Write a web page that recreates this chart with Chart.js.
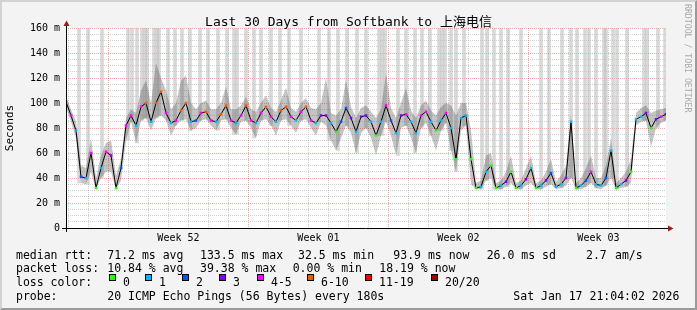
<!DOCTYPE html>
<html>
<head>
<meta charset="utf-8">
<script src="https://cdn.jsdelivr.net/npm/chart.js@4.4.1/dist/chart.umd.min.js"></script>
<style>
body { margin: 0; }
#wrap { position: relative; width: 697px; height: 310px; background: #f3f3f3; overflow: hidden;
        font-family: 'DejaVu Sans Mono', monospace; color: #000; }
#frame { position: absolute; left: 0; top: 0; width: 693px; height: 306px; border: 2px solid;
         border-color: #d2d2d2 #9a9a9a #9a9a9a #d2d2d2; }
canvas { position: absolute; left: 0; top: 0; }
.t { position: absolute; white-space: pre; font-size: 11.5px; line-height: 14px; }
#title { position: absolute; left: 0; top: 15px; width: 697px; text-align: center; font-size: 13px; line-height: 14px;
         font-family: 'DejaVu Sans Mono', 'Noto Sans CJK SC', monospace; }
#credit { position: absolute; left: 683px; top: 4px; writing-mode: vertical-rl; font-size: 8.2px; color: #aaa; }
.box { position: absolute; top: 274px; width: 7px; height: 7px; box-sizing: border-box; border: 1px solid #000; }
</style>
</head>
<body>
<div id="wrap">
  <div id="frame"></div>
  <canvas id="chart" width="697" height="310"></canvas>
  <div id="title">Last 30 Days from Softbank to 上海电信</div>
  <div id="credit">RRDTOOL / TOBI OETIKER</div>
  <div id="stats"></div>
</div>
<script>
// one median sample every 6 hours, starting Thu Dec 18 21:04
const sampleStep = 0.25;

const median = [
  101, 90, 78, 41, 40, 60, 32, 48, 61, 58,
  32, 48, 82, 90, 82, 97, 100, 85, 100, 109,
  92, 84, 86, 94, 100, 85, 86, 92, 93, 86,
  85, 91, 98, 86, 84, 90, 98, 86, 84, 92,
  97, 89, 85, 94, 97, 89, 86, 93, 97, 86,
  84, 90, 90, 84, 77, 85, 96, 88, 77, 89,
  90, 85, 74, 85, 98, 86, 76, 90, 91, 85,
  76, 90, 93, 85, 78, 86, 92, 80, 55, 88,
  90, 55, 32, 33, 45, 50, 32, 34, 37, 45,
  32, 34, 39, 48, 32, 34, 38, 44, 33, 35,
  40, 85, 32, 34, 38, 45, 35, 34, 40, 62,
  32, 35, 38, 45, 87, 89, 92, 80, 87, 89,
  91
];

const smokeHi = [
  105, 95, 85, 50, 48, 72, 40, 58, 68, 70,
  42, 55, 88, 95, 92, 110, 118, 100, 132, 120,
  110, 95, 100, 118, 122, 100, 95, 100, 102, 95,
  95, 100, 113, 95, 95, 98, 105, 95, 93, 100,
  106, 96, 93, 102, 112, 96, 93, 100, 104, 96,
  95, 100, 120, 92, 90, 95, 118, 97, 88, 96,
  98, 93, 88, 95, 124, 96, 88, 100, 112, 94,
  88, 98, 102, 94, 90, 97, 100, 98, 90, 100,
  100, 78, 36, 38, 58, 60, 36, 38, 45, 58,
  36, 38, 48, 58, 36, 38, 45, 55, 37, 42,
  50, 90, 36, 40, 48, 58, 40, 40, 50, 72,
  36, 40, 45, 55, 92, 96, 98, 92, 94, 95,
  96
];

const smokeLo = [
  97, 85, 72, 36, 35, 45, 31, 40, 45, 45,
  31, 38, 70, 85, 68, 86, 88, 78, 88, 90,
  86, 74, 82, 86, 87, 78, 80, 86, 87, 82,
  78, 86, 87, 80, 75, 85, 86, 80, 72, 86,
  87, 82, 74, 86, 87, 82, 76, 86, 87, 80,
  74, 85, 82, 70, 62, 72, 82, 76, 60, 76,
  80, 72, 58, 74, 85, 74, 58, 80, 82, 72,
  60, 80, 84, 74, 62, 78, 84, 62, 45, 78,
  82, 35, 31, 31, 38, 40, 31, 31, 33, 36,
  31, 31, 34, 36, 31, 31, 33, 35, 31, 32,
  34, 40, 31, 31, 33, 36, 32, 31, 34, 40,
  31, 32, 33, 36, 82, 85, 86, 65, 80, 84,
  86
];

// lost pings out of 20 for each sample
const lossCount = [
  4, 4, 1, 2, 1, 4, 0, 1, 4, 3,
  0, 2, 4, 4, 1, 4, 7, 1, 7, 7,
  4, 1, 4, 7, 7, 1, 2, 4, 7, 4,
  1, 7, 7, 4, 1, 4, 7, 4, 1, 4,
  7, 4, 1, 7, 7, 4, 1, 4, 7, 4,
  1, 3, 3, 1, 0, 2, 2, 3, 1, 3,
  3, 1, 0, 1, 4, 2, 1, 3, 4, 1,
  1, 4, 4, 1, 0, 1, 4, 1, 0, 1,
  1, 0, 0, 1, 1, 0, 0, 1, 3, 0,
  0, 1, 3, 1, 0, 1, 3, 2, 1, 1,
  3, 1, 0, 1, 2, 4, 1, 1, 2, 1,
  0, 1, 3, 0, 1, 1, 3, 0, 3, 4,
  3
];

// times (days from start) where the smoke runs off the top
const spikeTimes = [
  0.65, 1.10, 1.80, 3.10, 3.30, 3.55, 3.80, 3.95, 4.05, 4.40, 4.55, 4.65,
  5.10, 5.45, 5.80, 6.20, 6.70, 7.10, 7.60, 8.05, 8.40, 8.55, 9.00, 9.40,
  9.75, 10.25, 10.70, 11.15, 11.75, 12.65, 13.15, 13.60, 14.05, 14.55, 15.00, 15.65,
  15.80, 15.95, 16.60, 17.00, 17.45, 17.80, 18.20, 18.65, 18.80, 18.95, 19.25, 19.50,
  19.90, 20.80, 21.05, 21.40, 21.75, 22.10, 22.75, 23.75, 24.15, 24.80, 25.25, 25.55,
  25.95, 26.15, 26.50, 26.90, 27.00, 27.35, 27.55, 28.05, 28.90, 29.05, 29.60, 29.95
];

const weekLabels = ["Week 52", "Week 01", "Week 02", "Week 03"];

const lossLabels = ["0", "1", "2", "3", "4-5", "6-10", "11-19", "20/20"];
const lossColors = ["#26ff00", "#00b8ff", "#0059ff", "#7e00ff", "#ff00ff", "#ff5500", "#ff0000", "#a10000"];

const statLines = [
  ["median rtt:", "71.2 ms avg", "133.5 ms max", "32.5 ms min", "93.9 ms now", "26.0 ms sd", "2.7", "am/s"],
  ["packet loss:", "10.84 % avg", "39.38 % max", "0.00 % min", "18.19 % now"],
  ["probe:", "20 ICMP Echo Pings (56 Bytes) every 180s", "Sat Jan 17 21:04:02 2026"]
];

// layout of the text rows under the graph
const statX = [
  [16, 107.3, 200, 298, 393.3, 486.7, 586, 615],
  [16, 107.3, 200, 292.7, 379.3],
  [16, 107.3, 513.3]
];
const statY = [248, 261, 289];
const legendX = [109, 145, 182, 219, 257, 307, 365, 431];

const stats = document.getElementById("stats");
statLines.forEach((line, r) => {
    line.forEach((txt, c) => {
        const d = document.createElement("div");
        d.className = "t";
        d.style.left = statX[r][c] + "px";
        d.style.top = statY[r] + "px";
        d.textContent = txt;
        stats.appendChild(d);
    });
});
const lc = document.createElement("div");
lc.className = "t";
lc.style.left = "16px";
lc.style.top = "275px";
lc.textContent = "loss color:";
stats.appendChild(lc);
lossLabels.forEach((lab, i) => {
    const b = document.createElement("div");
    b.className = "box";
    b.style.left = legendX[i] + "px";
    b.style.background = lossColors[i];
    stats.appendChild(b);
    const t = document.createElement("div");
    t.className = "t";
    t.style.left = (legendX[i] + 14) + "px";
    t.style.top = "275px";
    t.textContent = lab;
    stats.appendChild(t);
});

function lossColor(n) {
    if (n <= 3) return lossColors[n];
    if (n <= 5) return lossColors[4];
    if (n <= 10) return lossColors[5];
    if (n <= 19) return lossColors[6];
    return lossColors[7];
}

const firstMidnight = (24 - (21 + 4 / 60)) / 24;
const firstSunday = firstMidnight + 2;
const dayLines = [];
for (let k = 0; k < 30; k++) dayLines.push(firstMidnight + k);
const weekTimes = weekLabels.map((_, i) => firstSunday + 3.5 + 7 * i);

const times = median.map((_, i) => i * sampleStep);
const pts = arr => arr.map((v, i) => ({ x: times[i], y: v }));

const rrdFrame = {
    id: "rrdFrame",
    beforeDraw(chart) {
        const { ctx, chartArea: a } = chart;
        ctx.save();
        ctx.fillStyle = "#ffffff";
        ctx.fillRect(a.left, a.top, a.right - a.left, a.bottom - a.top);
        ctx.restore();
    },
    afterDraw(chart) {
        const { ctx, chartArea: a } = chart;
        ctx.save();
        ctx.strokeStyle = "#000";
        ctx.lineWidth = 1;
        ctx.beginPath();
        ctx.moveTo(a.left - 4, a.bottom + 0.5);
        ctx.lineTo(a.right + 3, a.bottom + 0.5);
        ctx.moveTo(a.left + 0.5, a.bottom + 4);
        ctx.lineTo(a.left + 0.5, a.top - 3);
        ctx.stroke();
        ctx.fillStyle = "#9b1c1c";
        ctx.beginPath();
        ctx.moveTo(a.right + 2, a.bottom - 2.5);
        ctx.lineTo(a.right + 7.5, a.bottom + 0.5);
        ctx.lineTo(a.right + 2, a.bottom + 3.5);
        ctx.closePath();
        ctx.fill();
        ctx.beginPath();
        ctx.moveTo(a.left - 2.5, a.top - 2);
        ctx.lineTo(a.left + 0.5, a.top - 7.5);
        ctx.lineTo(a.left + 3.5, a.top - 2);
        ctx.closePath();
        ctx.fill();
        ctx.restore();
    }
};

Chart.defaults.font.family = "'DejaVu Sans Mono', monospace";
Chart.defaults.font.size = 10;
Chart.defaults.color = "#000";

new Chart(document.getElementById("chart").getContext("2d"), {
    type: "line",
    data: {
        datasets: [
            {
                type: "bar",
                data: spikeTimes.map(t => ({ x: t, y: [smokeLo[Math.round(t / sampleStep)], 160] })),
                backgroundColor: "rgba(190,190,190,0.6)",
                barThickness: 3,
                grouped: false,
                order: 4
            },
            {
                data: pts(smokeLo),
                borderWidth: 0,
                pointRadius: 0,
                fill: false,
                order: 3
            },
            {
                data: pts(smokeHi),
                borderWidth: 0,
                pointRadius: 0,
                fill: "-1",
                backgroundColor: "rgba(60,60,60,0.3)",
                order: 3
            },
            {
                data: pts(median),
                borderColor: "#000",
                borderWidth: 1,
                tension: 0,
                pointStyle: "rect",
                pointRadius: 1.8,
                pointBorderWidth: 0,
                pointBackgroundColor: lossCount.map(lossColor),
                order: 1
            }
        ]
    },
    options: {
        responsive: false,
        animation: false,
        devicePixelRatio: 1,
        layout: { padding: { top: 28, right: 31, left: 0, bottom: 0 } },
        plugins: { legend: { display: false }, tooltip: { enabled: false } },
        scales: {
            x: {
                type: "linear",
                min: 0,
                max: 30,
                offset: false,
                position: "bottom",
                grid: { display: false, offset: false },
                border: { display: false },
                ticks: {
                    padding: -4,
                    autoSkip: false,
                    maxRotation: 0,
                    callback: (v, i) => weekLabels[i]
                },
                afterBuildTicks: s => { s.ticks = weekTimes.map(v => ({ value: v })); },
                afterFit: s => { s.height = 82; }
            },
            xg: {
                type: "linear",
                min: 0,
                max: 30,
                offset: false,
                position: "bottom",
                z: 1,
                ticks: { display: false },
                grid: {
                    drawTicks: false,
                    offset: false,
                    lineWidth: 1,
                    color: c => (Math.round(c.tick.value - firstSunday) % 7 === 0)
                        ? "rgba(215,70,70,0.45)" : "rgba(140,140,140,0.4)"
                },
                border: { display: false, dash: [1, 1] },
                afterBuildTicks: s => { s.ticks = dayLines.map(v => ({ value: v })); },
                afterFit: s => { s.height = 0; }
            },
            y: {
                type: "linear",
                min: 0,
                max: 160,
                z: 1,
                ticks: {
                    padding: 6,
                    autoSkip: false,
                    callback: v => v % 20 === 0 ? (v === 0 ? "0" : v + " m") : ""
                },
                grid: {
                    drawTicks: false,
                    lineWidth: 1,
                    color: c => c.tick.value % 20 === 0 ? "rgba(215,70,70,0.45)" : "rgba(140,140,140,0.4)"
                },
                border: { display: false, dash: [1, 1] },
                title: {
                    display: true,
                    text: "Seconds",
                    font: { size: 11 },
                    padding: { top: 4, bottom: 0 }
                },
                afterBuildTicks: s => {
                    const t = [];
                    for (let v = 0; v <= 160; v += 5) t.push({ value: v });
                    s.ticks = t;
                },
                afterFit: s => { s.width = 66; }
            }
        }
    },
    plugins: [rrdFrame]
});
</script>
</body>
</html>
